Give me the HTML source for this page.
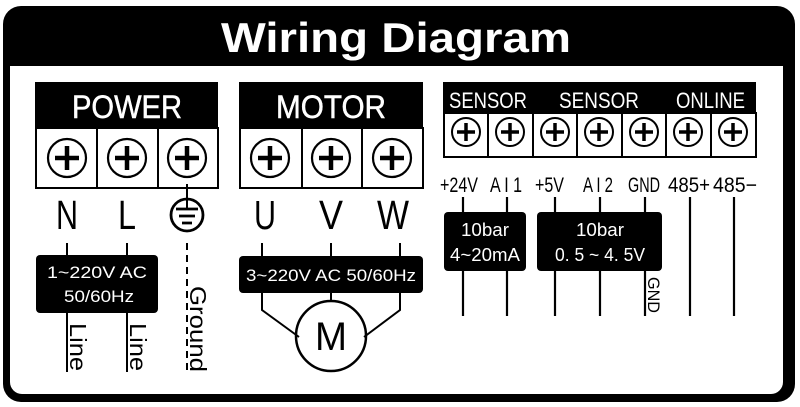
<!DOCTYPE html>
<html><head><meta charset="utf-8"><style>
html,body{margin:0;padding:0;background:#fff;}
svg{display:block;}
text{font-family:"Liberation Sans",sans-serif;}
</style></head><body>
<svg width="800" height="407" viewBox="0 0 800 407" xmlns="http://www.w3.org/2000/svg">
<defs>
<g id="scr"><circle r="19" fill="#fff" stroke="#000" stroke-width="2.2"/><path d="M-12 0H12M0 -12V12" stroke="#000" stroke-width="4.5"/></g>
<g id="scs"><circle r="14" fill="#fff" stroke="#000" stroke-width="2"/><path d="M-9 0H9M0 -9V9" stroke="#000" stroke-width="3.5"/></g>
</defs>
<rect x="3" y="6" width="792" height="396" rx="18" fill="#000"/>
<rect x="10" y="66" width="773" height="328" rx="12" fill="#fff"/>
<rect x="10" y="60" width="773" height="10" fill="#000"/>
<rect x="10" y="66" width="773" height="14" fill="#fff"/>
<text x="396" y="52" font-size="42" font-weight="bold" fill="#fff" text-anchor="middle" textLength="350" lengthAdjust="spacingAndGlyphs">Wiring Diagram</text>

<!-- POWER -->
<rect x="35" y="82" width="183" height="46" fill="#000"/>
<text x="127" y="118" font-size="32" fill="#fff" text-anchor="middle" textLength="110" lengthAdjust="spacingAndGlyphs" stroke="#fff" stroke-width="0.5">POWER</text>
<g fill="#fff" stroke="#000" stroke-width="2">
<rect x="36" y="128" width="61" height="60"/><rect x="97" y="128" width="61" height="60"/><rect x="158" y="128" width="60" height="60"/>
</g>
<use href="#scr" x="67" y="158"/><use href="#scr" x="127" y="158"/><use href="#scr" x="187" y="158"/>
<text x="67" y="229" font-size="41" text-anchor="middle" textLength="22" lengthAdjust="spacingAndGlyphs">N</text>
<text x="127" y="229" font-size="41" text-anchor="middle" textLength="18" lengthAdjust="spacingAndGlyphs">L</text>
<line x1="187" y1="184" x2="187" y2="210" stroke="#000" stroke-width="2"/>
<circle cx="187" cy="215" r="16" fill="none" stroke="#000" stroke-width="2.8"/>
<path d="M176 209H198M179 216H195M182 223H192" stroke="#000" stroke-width="2.8"/>
<line x1="67" y1="243" x2="67" y2="256" stroke="#000" stroke-width="2"/>
<line x1="127" y1="243" x2="127" y2="256" stroke="#000" stroke-width="2"/>
<rect x="36" y="255" width="122" height="58" rx="4" fill="#000"/>
<text x="97" y="278" font-size="17" fill="#fff" text-anchor="middle" textLength="100" lengthAdjust="spacingAndGlyphs">1~220V  AC</text>
<text x="99" y="302" font-size="17" fill="#fff" text-anchor="middle" textLength="70" lengthAdjust="spacingAndGlyphs">50/60Hz</text>
<line x1="67" y1="313" x2="67" y2="372" stroke="#000" stroke-width="2"/>
<line x1="127" y1="313" x2="127" y2="372" stroke="#000" stroke-width="2"/>
<text transform="translate(70,323) rotate(90)" font-size="23" textLength="48" lengthAdjust="spacingAndGlyphs">Line</text>
<text transform="translate(130,323) rotate(90)" font-size="23" textLength="48" lengthAdjust="spacingAndGlyphs">Line</text>
<line x1="187" y1="243" x2="187" y2="372" stroke="#000" stroke-width="2" stroke-dasharray="7,5"/>
<text transform="translate(190,286) rotate(90)" font-size="23" textLength="86" lengthAdjust="spacingAndGlyphs">Ground</text>

<!-- MOTOR -->
<rect x="239" y="82" width="184" height="46" fill="#000"/>
<text x="331" y="118" font-size="32" fill="#fff" text-anchor="middle" textLength="110" lengthAdjust="spacingAndGlyphs" stroke="#fff" stroke-width="0.5">MOTOR</text>
<g fill="#fff" stroke="#000" stroke-width="2">
<rect x="240" y="128" width="62" height="60"/><rect x="302" y="128" width="60" height="60"/><rect x="362" y="128" width="61" height="60"/>
</g>
<use href="#scr" x="270" y="158"/><use href="#scr" x="331" y="158"/><use href="#scr" x="392" y="158"/>
<text x="265" y="229" font-size="41" text-anchor="middle" textLength="22" lengthAdjust="spacingAndGlyphs">U</text>
<text x="331" y="229" font-size="41" text-anchor="middle" textLength="24" lengthAdjust="spacingAndGlyphs">V</text>
<text x="393" y="229" font-size="41" text-anchor="middle" textLength="32" lengthAdjust="spacingAndGlyphs">W</text>
<g stroke="#000" stroke-width="2" fill="none">
<line x1="262" y1="243" x2="262" y2="257"/><line x1="331" y1="243" x2="331" y2="257"/><line x1="400" y1="243" x2="400" y2="257"/>
<path d="M262 293V310L299 337"/><path d="M331 293V301"/><path d="M400 293V310L364 337"/>
<circle cx="331" cy="336" r="35" stroke-width="2.5"/>
</g>
<rect x="239" y="256" width="184" height="37" rx="4" fill="#000"/>
<text x="331" y="281" font-size="17" fill="#fff" text-anchor="middle" textLength="170" lengthAdjust="spacingAndGlyphs">3~220V AC 50/60Hz</text>
<text x="331" y="350" font-size="40" text-anchor="middle" textLength="32" lengthAdjust="spacingAndGlyphs">M</text>

<!-- SENSOR block -->
<rect x="443" y="82" width="313" height="32" fill="#000"/>
<text x="449" y="108" font-size="22" fill="#fff" textLength="78" lengthAdjust="spacingAndGlyphs">SENSOR</text>
<text x="559" y="108" font-size="22" fill="#fff" textLength="80" lengthAdjust="spacingAndGlyphs">SENSOR</text>
<text x="676" y="108" font-size="22" fill="#fff" textLength="69" lengthAdjust="spacingAndGlyphs">ONLINE</text>
<g fill="#fff" stroke="#000" stroke-width="2">
<rect x="444" y="113" width="44" height="44"/><rect x="488" y="113" width="45" height="44"/><rect x="533" y="113" width="44" height="44"/><rect x="577" y="113" width="45" height="44"/><rect x="622" y="113" width="44" height="44"/><rect x="666" y="113" width="45" height="44"/><rect x="711" y="113" width="45" height="44"/>
</g>
<use href="#scs" x="466" y="132"/><use href="#scs" x="510" y="132"/><use href="#scs" x="555" y="132"/><use href="#scs" x="599" y="132"/><use href="#scs" x="644" y="132"/><use href="#scs" x="688" y="132"/><use href="#scs" x="733" y="132"/>
<g font-size="21">
<text x="440" y="192" textLength="38" lengthAdjust="spacingAndGlyphs">+24V</text>
<text x="490" y="192" textLength="32" lengthAdjust="spacingAndGlyphs">A I 1</text>
<text x="535" y="192" textLength="29" lengthAdjust="spacingAndGlyphs">+5V</text>
<text x="583" y="192" textLength="30" lengthAdjust="spacingAndGlyphs">A I 2</text>
<text x="628" y="192" textLength="32" lengthAdjust="spacingAndGlyphs">GND</text>
<text x="668" y="192" textLength="42" lengthAdjust="spacingAndGlyphs">485+</text>
<text x="713" y="192" textLength="44" lengthAdjust="spacingAndGlyphs">485−</text>
</g>
<g stroke="#000" stroke-width="2.2">
<line x1="463" y1="197" x2="463" y2="316"/><line x1="507" y1="197" x2="507" y2="316"/><line x1="555" y1="197" x2="555" y2="316"/><line x1="600" y1="197" x2="600" y2="316"/><line x1="645" y1="197" x2="645" y2="316"/><line x1="690" y1="197" x2="690" y2="316"/><line x1="734" y1="197" x2="734" y2="316"/>
</g>
<rect x="444" y="212" width="82" height="59" rx="4" fill="#000"/>
<rect x="537" y="212" width="125" height="59" rx="4" fill="#000"/>
<text x="485" y="236" font-size="18" fill="#fff" text-anchor="middle" textLength="48" lengthAdjust="spacingAndGlyphs">10bar</text>
<text x="485" y="261" font-size="18" fill="#fff" text-anchor="middle" textLength="70" lengthAdjust="spacingAndGlyphs">4~20mA</text>
<text x="600" y="236" font-size="18" fill="#fff" text-anchor="middle" textLength="48" lengthAdjust="spacingAndGlyphs">10bar</text>
<text x="600" y="261" font-size="18" fill="#fff" text-anchor="middle" textLength="90" lengthAdjust="spacingAndGlyphs">0. 5 ~ 4. 5V</text>
<text transform="translate(648,277) rotate(90)" font-size="17" textLength="36" lengthAdjust="spacingAndGlyphs">GND</text>
</svg>
</body></html>
